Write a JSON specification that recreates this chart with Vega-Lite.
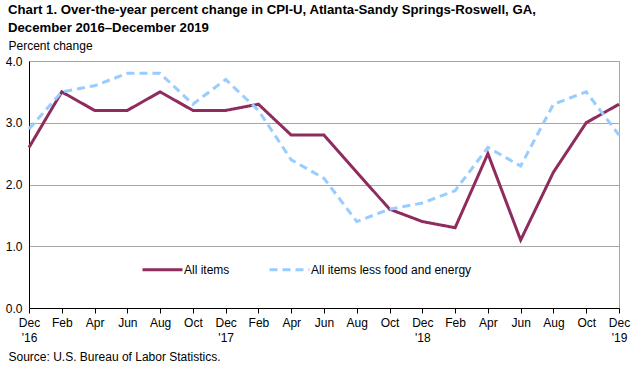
{
  "$schema": "https://vega.github.io/schema/vega-lite/v6.json",
  "width": 590,
  "height": 247,
  "autosize": {"type": "none"},
  "padding": {"left": 29, "top": 61, "right": 16, "bottom": 58},
  "background": "white",
  "title": {
    "text": ["Chart 1. Over-the-year percent change in CPI-U, Atlanta-Sandy Springs-Roswell, GA,", "December 2016–December 2019"],
    "anchor": "start",
    "frame": "group",
    "dx": -21,
    "offset": 4,
    "fontSize": 13.2,
    "font": "Liberation Sans",
    "fontWeight": "bold",
    "color": "black",
    "lineHeight": 18
  },
  "data": {
    "values": [
      {"m": "Dec '16", "a": 2.6, "c": 2.9},
      {"m": "Feb '17", "a": 3.5, "c": 3.5},
      {"m": "Apr '17", "a": 3.2, "c": 3.6},
      {"m": "Jun '17", "a": 3.2, "c": 3.8},
      {"m": "Aug '17", "a": 3.5, "c": 3.8},
      {"m": "Oct '17", "a": 3.2, "c": 3.3},
      {"m": "Dec '17", "a": 3.2, "c": 3.7},
      {"m": "Feb '18", "a": 3.3, "c": 3.2},
      {"m": "Apr '18", "a": 2.8, "c": 2.4},
      {"m": "Jun '18", "a": 2.8, "c": 2.1},
      {"m": "Aug '18", "a": 2.2, "c": 1.4},
      {"m": "Oct '18", "a": 1.6, "c": 1.6},
      {"m": "Dec '18", "a": 1.4, "c": 1.7},
      {"m": "Feb '19", "a": 1.3, "c": 1.9},
      {"m": "Apr '19", "a": 2.5, "c": 2.6},
      {"m": "Jun '19", "a": 1.1, "c": 2.3},
      {"m": "Aug '19", "a": 2.2, "c": 3.3},
      {"m": "Oct '19", "a": 3.0, "c": 3.5},
      {"m": "Dec '19", "a": 3.3, "c": 2.8}
    ]
  },
  "transform": [
    {"fold": ["a", "c"], "as": ["k", "v"]},
    {"calculate": "datum.k == 'a' ? 'All items' : 'All items less food and energy'", "as": "series"}
  ],
  "mark": {"type": "line", "strokeWidth": 3},
  "encoding": {
    "x": {
      "field": "m",
      "type": "ordinal",
      "sort": null,
      "scale": {"type": "point", "padding": 0},
      "axis": {
        "title": "Source: U.S. Bureau of Labor Statistics.",
        "titleAnchor": "start",
        "titleAlign": "left",
        "titleX": -21,
        "titleY": 43,
        "titleFontSize": 12,
        "titleFontWeight": "normal",
        "titleColor": "black",
        "labelAngle": 0,
        "labelExpr": "indexof(datum.value,'Dec')==0 ? split(datum.value,' ') : slice(datum.value,0,3)",
        "labelFontSize": 12,
        "labelColor": "black",
        "labelPadding": 4,
        "labelLineHeight": 15,
        "labelBaseline": "top",
        "domainColor": "black",
        "tickColor": "black",
        "tickSize": 5,
        "grid": false
      }
    },
    "y": {
      "field": "v",
      "type": "quantitative",
      "scale": {"domain": [0, 4]},
      "axis": {
        "values": [0, 1, 2, 3, 4],
        "format": ".1f",
        "title": "Percent change",
        "titleAngle": 0,
        "titleAlign": "left",
        "titleBaseline": "alphabetic",
        "titleX": -21,
        "titleY": -12,
        "titleFontSize": 12,
        "titleFontWeight": "normal",
        "titleColor": "black",
        "labelFontSize": 12,
        "labelColor": "black",
        "labelPadding": 7,
        "ticks": false,
        "domainColor": "black",
        "gridColor": "#a6a6a6",
        "gridWidth": 1
      }
    },
    "color": {
      "field": "series",
      "type": "nominal",
      "scale": {"domain": ["All items", "All items less food and energy"], "range": ["#8e2c5e", "#99ccff"]},
      "legend": {
        "title": null,
        "orient": "none",
        "direction": "horizontal",
        "legendX": 112,
        "legendY": 187,
        "symbolType": "stroke",
        "symbolSize": 1600,
        "symbolStrokeWidth": 3,
        "labelFontSize": 12,
        "labelColor": "black",
        "labelOffset": 0,
        "labelLimit": 300,
        "columnPadding": 33,
        "padding": 0
      }
    },
    "strokeDash": {
      "field": "series",
      "type": "nominal",
      "scale": {"domain": ["All items", "All items less food and energy"], "range": [[1, 0], [8, 5]]},
      "legend": {
        "title": null,
        "orient": "none",
        "direction": "horizontal",
        "legendX": 112,
        "legendY": 187,
        "symbolType": "stroke",
        "symbolSize": 1600,
        "symbolStrokeWidth": 3,
        "labelFontSize": 12,
        "labelColor": "black",
        "labelOffset": 0,
        "labelLimit": 300,
        "columnPadding": 33,
        "padding": 0
      }
    }
  },
  "config": {
    "font": "Liberation Sans",
    "view": {"stroke": "#a6a6a6"}
  }
}
